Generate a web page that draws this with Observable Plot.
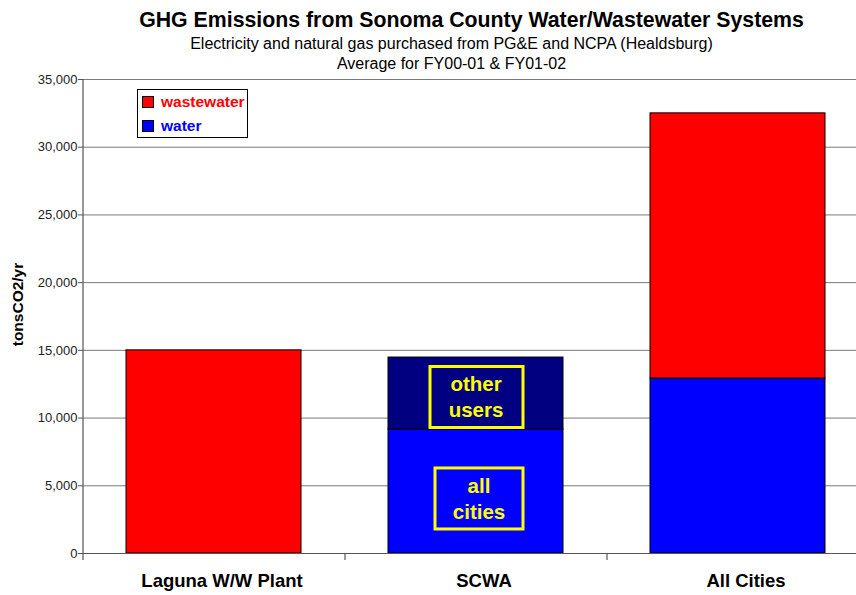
<!DOCTYPE html>
<html><head><meta charset="utf-8">
<script src="https://cdn.jsdelivr.net/npm/d3@7"></script>
<script src="https://cdn.jsdelivr.net/npm/@observablehq/plot@0.6"></script>
<style>
body{margin:0;background:#fff;font-family:Arial,"Liberation Sans",sans-serif;}
#wrap{position:relative;width:856px;height:595px;overflow:hidden;}
#legend{position:absolute;left:137px;top:89px;width:111px;height:49px;border:1px solid #000;background:#fff;box-sizing:border-box;font-weight:bold;font-size:15.5px;}
#legend .row{position:absolute;left:4px;display:flex;align-items:center;}
#legend .sw{width:10px;height:10px;border:1px solid #000;margin-right:7px;}
</style></head>
<body><div id="wrap"><div id="chart"></div>
<div id="legend"></div></div>
<script>
const title = "GHG Emissions from Sonoma County Water/Wastewater Systems";
const subtitle1 = "Electricity and natural gas purchased from PG&E and NCPA (Healdsburg)";
const subtitle2 = "Average for FY00-01 & FY01-02";
const yLabel = "tonsCO2/yr";
const categories = ["Laguna W/W Plant", "SCWA", "All Cities"];
const seriesNames = ["water", "other users", "wastewater"];
const seriesColors = ["#0000FF", "#000080", "#FF0000"];
const water = [0, 9160, 12920];
const otherUsers = [0, 5310, 0];
const wastewater = [15000, 0, 19580];
const yTicks = [0, 5000, 10000, 15000, 20000, 25000, 30000, 35000];
const legendItems = ["wastewater", "water"];

const rows = [];
categories.forEach((c, i) => {
  rows.push({cat: c, series: "water", value: water[i]});
  rows.push({cat: c, series: "other users", value: otherUsers[i]});
  rows.push({cat: c, series: "wastewater", value: wastewater[i]});
});

// annotation labels inside the SCWA bar, centred on their segments
const si = categories.indexOf("SCWA");
const annOther = {cat: "SCWA", text: "other\nusers", mid: water[si] + otherUsers[si] / 2};
const annCities = {cat: "SCWA", text: "all\ncities", mid: water[si] / 2};
const fmt = d3.format(",");
const yMax = yTicks[yTicks.length - 1];

const chart = Plot.plot({
  width: 856, height: 595,
  marginLeft: 83, marginRight: -13, marginTop: 79, marginBottom: 42,
  style: {fontFamily: "Arial, 'Liberation Sans', sans-serif", background: "#fff", overflow: "visible"},
  x: {domain: categories, paddingInner: 0.332, paddingOuter: 0.166, axis: null},
  y: {domain: [0, yMax], axis: null},
  color: {domain: seriesNames, range: seriesColors},
  marks: [
    Plot.gridY(yTicks, {stroke: "#7a7a7a", strokeOpacity: 1, strokeWidth: 1}),
    Plot.barY(rows, Plot.stackY({x: "cat", y: "value", fill: "series", order: seriesNames, stroke: "#000", strokeWidth: 1})),
    Plot.ruleY([0], {stroke: "#555", strokeWidth: 1.2}),
    // y-axis line (first) and category boundary ticks, half a band step left of each band centre
    Plot.ruleX(categories, {x: d => d, y1: (d, i) => i === 0 ? yMax : 0, y2: d => -520, dx: -131, stroke: "#555", strokeWidth: 1.2}),
    Plot.axisY(yTicks, {tickFormat: d => fmt(d), tickSize: 5, tickPadding: 1, fontSize: 13, stroke: "#555", fill: "#222", label: null}),
    Plot.text(categories, {x: d => d, y: d => 0, dy: 28, dx: 8, fontSize: 18.5, fontWeight: "bold", fill: "#000"}),
    // annotation boxes
    Plot.barY([annOther], {x: "cat", y1: "mid", y2: "mid", insetTop: -30.5, insetBottom: -30.5, insetLeft: 42, insetRight: 40, dy: 4, fill: "none", stroke: "#FFFF00", strokeWidth: 3}),
    Plot.barY([annCities], {x: "cat", y1: "mid", y2: "mid", insetTop: -30.5, insetBottom: -30.5, insetLeft: 47, insetRight: 40, dy: 7.5, fill: "none", stroke: "#FFFF00", strokeWidth: 3}),
    Plot.text([annOther], {x: "cat", y: "mid", text: "text", dy: 2, dx: 0, fontSize: 20.5, fontWeight: "bold", fill: "#FFFF00", lineHeight: 1.27}),
    Plot.text([annCities], {x: "cat", y: "mid", text: "text", dy: 6, dx: 3, fontSize: 20.5, fontWeight: "bold", fill: "#FFFF00", lineHeight: 1.27}),
    // titles
    Plot.text([title], {frameAnchor: "top", dy: -68, dx: -5, fontSize: 21.3, fontWeight: "bold", fill: "#000"}),
    Plot.text([subtitle1], {frameAnchor: "top", dy: -42, dx: -25, fontSize: 16, fill: "#000"}),
    Plot.text([subtitle2], {frameAnchor: "top", dy: -22, dx: -25, fontSize: 16, fill: "#000"}),
    Plot.text([yLabel], {frameAnchor: "left", textAnchor: "middle", dx: -65.5, dy: -12, rotate: -90, fontSize: 15.5, fontWeight: "bold", fill: "#000"})
  ]
});
document.getElementById("chart").appendChild(chart);

const leg = document.getElementById("legend");
legendItems.forEach((name, i) => {
  const col = seriesColors[seriesNames.indexOf(name)];
  const row = document.createElement("div");
  row.className = "row";
  row.style.top = (i === 0 ? 3 : 27) + "px";
  row.innerHTML = `<div class="sw" style="background:${col}"></div><span style="color:${col}">${name}</span>`;
  leg.appendChild(row);
});
</script></body></html>
